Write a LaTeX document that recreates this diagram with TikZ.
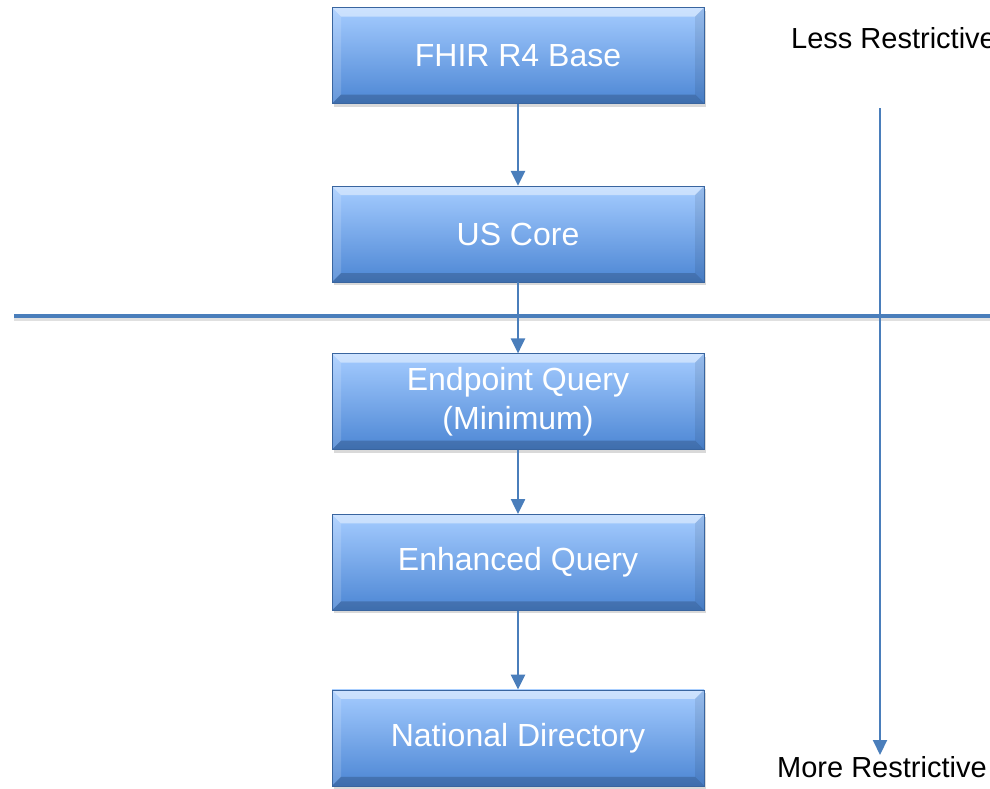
\documentclass[tikz,border=0pt]{standalone}
\usepackage{fontspec}
\setmainfont{Liberation Sans}
\usetikzlibrary{positioning, arrows.meta, shadows}
\definecolor{boxTop}{HTML}{A5CCFF}
\definecolor{boxBot}{HTML}{4C86D4}
\definecolor{lineBlue}{HTML}{4A7EBB}
\tikzstyle{bevel}=[path picture={
  \fill[white, opacity=0.45] (path picture bounding box.north west) -- (path picture bounding box.north east)
    -- ([xshift=-9pt, yshift=-9pt]path picture bounding box.north east) -- ([xshift=9pt, yshift=-9pt]path picture bounding box.north west) -- cycle;
  \fill[white, opacity=0.15] (path picture bounding box.north west) -- ([xshift=9pt, yshift=-9pt]path picture bounding box.north west)
    -- ([xshift=9pt, yshift=9pt]path picture bounding box.south west) -- (path picture bounding box.south west) -- cycle;
  \fill[black, opacity=0.08] (path picture bounding box.north east) -- ([xshift=-9pt, yshift=-9pt]path picture bounding box.north east)
    -- ([xshift=-9pt, yshift=9pt]path picture bounding box.south east) -- (path picture bounding box.south east) -- cycle;
  \fill[black, opacity=0.18] (path picture bounding box.south west) -- (path picture bounding box.south east)
    -- ([xshift=-9pt, yshift=9pt]path picture bounding box.south east) -- ([xshift=9pt, yshift=9pt]path picture bounding box.south west) -- cycle;
}]
\tikzstyle{stage}=[rectangle, bevel, minimum width=372pt, minimum height=96pt, inner sep=0pt,
  top color=boxTop, bottom color=boxBot, draw=boxBot!75!black, line width=0.6pt,
  drop shadow={opacity=0.3, shadow xshift=2pt, shadow yshift=-3pt},
  text=white, align=center, font=\fontsize{32}{39}\selectfont]
\tikzstyle{flow}=[-{Triangle[length=15pt, width=14pt]}, line width=2.5pt, draw=lineBlue, fill=lineBlue]
\tikzstyle{scalelabel}=[font=\fontsize{29}{34}\selectfont, text=black, inner sep=0pt]

\begin{document}
\begin{tikzpicture}[x=1pt, y=-1pt]
  \useasboundingbox (0,0) rectangle (990,788);
  \clip (0,0) rectangle (990,788);

  % the stages, from the base down
  \node[stage] (base) at (518,55.5) {FHIR R4 Base};
  \node[stage, below=82pt of base] (core) {US Core};
  \node[stage, below=71pt of core] (endpoint) {Endpoint Query\\(Minimum)};
  \node[stage, below=64pt of endpoint] (enhanced) {Enhanced Query};
  \node[stage, below=79pt of enhanced] (national) {National Directory};

  % dividing line
  \coordinate (lineL) at (14,316);
  \coordinate (lineR) at (990,316);
  \draw[line width=4pt, black, opacity=0.12] ([yshift=-3pt]lineL) -- ([yshift=-3pt]lineR);
  \draw[line width=4pt, lineBlue] (lineL) -- (lineR);

  \foreach \a/\b in {base/core, core/endpoint, endpoint/enhanced, enhanced/national}
    \draw[flow] (\a) -- (\b);

  % restriction scale
  \node[scalelabel, anchor=west] (less) at (791,38) {Less Restrictive};
  \node[scalelabel, anchor=west] (more) at (777,767) {More Restrictive};
  \coordinate (scaleTop) at (880,108);
  \coordinate (scaleBot) at (880,755);
  \draw[flow, line width=2pt] (scaleTop) -- (scaleBot);
\end{tikzpicture}
\end{document}
